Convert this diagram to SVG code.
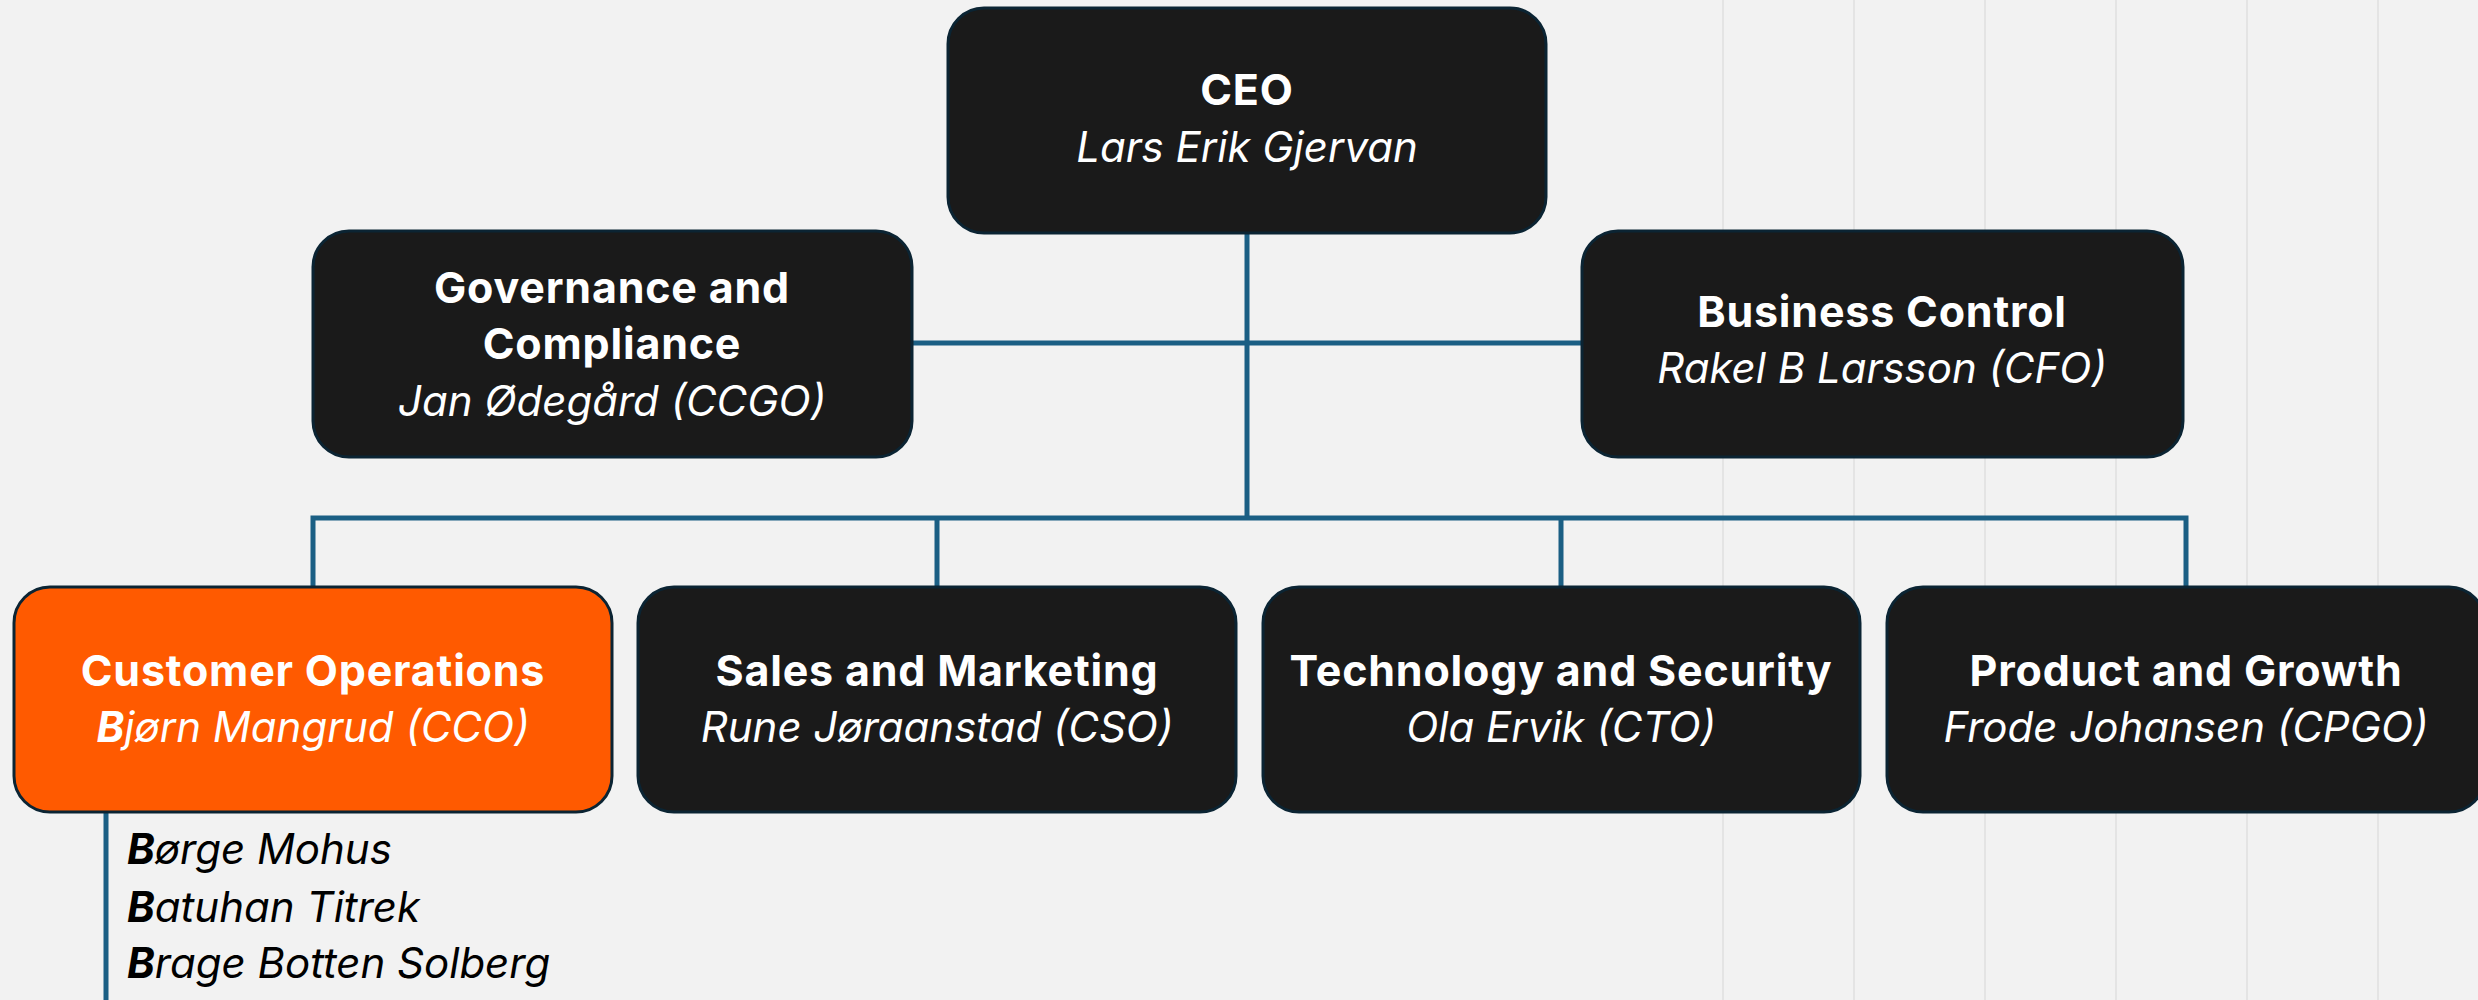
<svg xmlns="http://www.w3.org/2000/svg" width="2478" height="1000" viewBox="0 0 2478 1000">
<style>
.bg{fill:#f2f2f2}
.grid{stroke:#e4e4e4;stroke-width:2}
.box{fill:#1a1a1a;stroke:#0b2433;stroke-width:3}
.box.hl{fill:#ff5a00}
.conn{stroke:#1b5f84;stroke-width:5;fill:none}
.t{font-family:Inter,Roboto,"Liberation Sans",sans-serif;font-size:42px;fill:#ffffff;text-anchor:middle}
.b{font-weight:bold}
.t.b{font-size:43px;letter-spacing:0.8px}
.i{font-style:italic}
.sub{font-family:Inter,Roboto,"Liberation Sans",sans-serif;font-size:42px;fill:#000000;font-style:italic}
</style>
<rect class="bg" x="0" y="0" width="2478" height="1000"/>
<g id="grid">
<line class="grid" x1="1723" y1="0" x2="1723" y2="1000"/>
<line class="grid" x1="1854" y1="0" x2="1854" y2="1000"/>
<line class="grid" x1="1985" y1="0" x2="1985" y2="1000"/>
<line class="grid" x1="2116" y1="0" x2="2116" y2="1000"/>
<line class="grid" x1="2247" y1="0" x2="2247" y2="1000"/>
<line class="grid" x1="2378" y1="0" x2="2378" y2="1000"/>
</g>
<g id="connectors">
<line class="conn" x1="1247" y1="232" x2="1247" y2="520"/>
<line class="conn" x1="912" y1="343" x2="1582" y2="343"/>
<polyline class="conn" points="313,587 313,518 2186,518 2186,587"/>
<line class="conn" x1="937" y1="518" x2="937" y2="587"/>
<line class="conn" x1="1561" y1="518" x2="1561" y2="587"/>
<line class="conn" x1="106" y1="812" x2="106" y2="1000"/>
</g>
<g id="ceo">
<rect class="box" x="948" y="8" width="598" height="225" rx="36"/>
<text class="t b" x="1247" y="105">CEO</text>
<text class="t i" x="1247" y="162">Lars Erik Gjervan</text>
</g>
<g id="governance">
<rect class="box" x="313" y="231" width="599" height="226" rx="36"/>
<text class="t b" x="612" y="303">Governance and</text>
<text class="t b" x="612" y="359">Compliance</text>
<text class="t i" x="612" y="416">Jan Ødegård (CCGO)</text>
</g>
<g id="business-control">
<rect class="box" x="1582" y="231" width="601" height="226" rx="36"/>
<text class="t b" x="1882" y="327">Business Control</text>
<text class="t i" x="1882" y="383">Rakel B Larsson (CFO)</text>
</g>
<g id="customer-operations">
<rect class="box hl" x="14" y="587" width="598" height="225" rx="36"/>
<text class="t b" x="313" y="686">Customer Operations</text>
<text class="t i" x="313" y="742"><tspan class="b">B</tspan>jørn Mangrud (CCO)</text>
</g>
<g id="sales-marketing">
<rect class="box" x="638" y="587" width="598" height="225" rx="36"/>
<text class="t b" x="937" y="686">Sales and Marketing</text>
<text class="t i" x="937" y="742">Rune Jøraanstad (CSO)</text>
</g>
<g id="technology-security">
<rect class="box" x="1263" y="587" width="597" height="225" rx="36"/>
<text class="t b" x="1561" y="686">Technology and Security</text>
<text class="t i" x="1561" y="742">Ola Ervik (CTO)</text>
</g>
<g id="product-growth">
<rect class="box" x="1887" y="587" width="598" height="225" rx="36"/>
<text class="t b" x="2186" y="686">Product and Growth</text>
<text class="t i" x="2186" y="742">Frode Johansen (CPGO)</text>
</g>
<g id="customer-operations-members">
<text class="sub" x="127" y="864"><tspan class="b">B</tspan>ørge Mohus</text>
<text class="sub" x="127" y="922"><tspan class="b">B</tspan>atuhan Titrek</text>
<text class="sub" x="127" y="978"><tspan class="b">B</tspan>rage Botten Solberg</text>
</g>
</svg>
